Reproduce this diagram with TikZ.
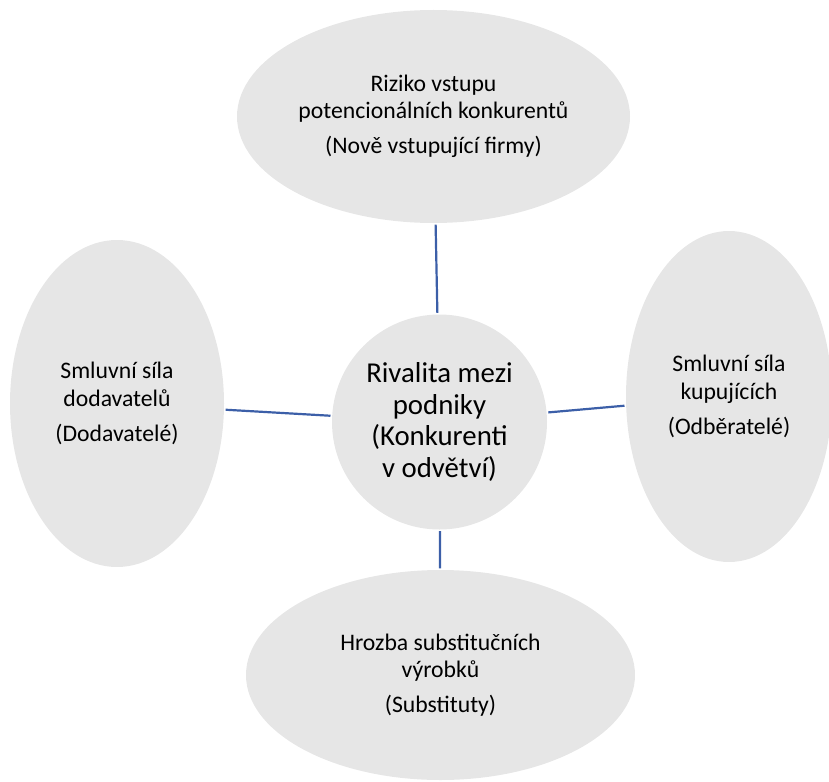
\documentclass[tikz,border=0pt]{standalone}
\usepackage{fontspec}
\setmainfont{Carlito}
\usetikzlibrary{shapes.geometric}
\definecolor{bubble}{HTML}{E6E6E6}
\definecolor{link}{RGB}{60,95,168}
\tikzset{
  force/.style={ellipse, fill=bubble, inner sep=0pt, align=center,
    font={\fontsize{23.7}{27.5}\selectfont}},
  core/.style={circle, fill=bubble, inner sep=0pt, align=center,
    minimum size=215pt, font={\fontsize{28.8}{31.7}\selectfont}},
  tie/.style={draw=link, line width=2.2pt, shorten <=1.5pt, shorten >=1.5pt}
}
\begin{document}
\begin{tikzpicture}[x=1pt,y=-1pt]
\useasboundingbox (0,0) rectangle (829,781);
% central rivalry
\node[core] (rival) at (439.5,422) {Rivalita mezi\\podniky\\(Konkurenti\\v odvětví)};
% the four surrounding forces
\node[force, minimum width=393pt, minimum height=213pt] (entry) at (433.5,116.5)
  {Riziko vstupu\\potencionálních konkurentů\\[7.5pt](Nově vstupující firmy)};
\node[force, minimum width=214pt, minimum height=327pt] (supp) at (117,403.5)
  {Smluvní síla\\dodavatelů\\[7.5pt](Dodavatelé)};
\node[force, minimum width=206pt, minimum height=331pt] (buy) at (729,396.5)
  {Smluvní síla\\kupujících\\[7.5pt](Odběratelé)};
\node[force, minimum width=389pt, minimum height=210pt] (subst) at (440.5,675)
  {Hrozba substitučních\\výrobků\\[7.5pt](Substituty)};
% links to the centre
\draw[tie] (entry) -- (rival);
\draw[tie] (supp) -- (rival);
\draw[tie] (rival) -- (buy);
\draw[tie] (rival) -- (subst);
\end{tikzpicture}
\end{document}
